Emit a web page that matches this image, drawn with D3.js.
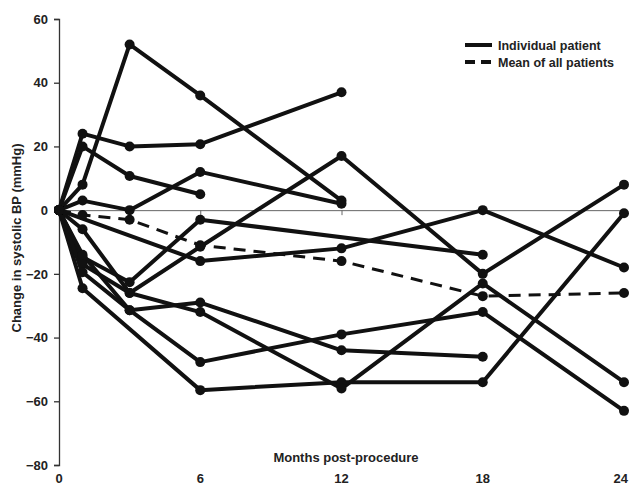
<!DOCTYPE html>
<html>
<head>
<meta charset="utf-8">
<script src="https://cdn.jsdelivr.net/npm/d3@7"></script>
<style>
  html, body { margin: 0; padding: 0; background: #fff; }
  svg { display: block; font-family: "Liberation Sans", Arial, sans-serif; }
</style>
</head>
<body>
<svg id="chart" width="629" height="486"></svg>
<script>
const months = [0, 1, 3, 6, 12, 18, 24];
const xTicks = [0, 6, 12, 18, 24];
const yTicks = [60, 40, 20, 0, -20, -40, -60, -80];

// one array per patient: [month, change in systolic BP]
const patients = [
  [[0, 0], [1, 24], [3, 20], [6, 20.7], [12, 37]],
  [[0, 0], [1, 20], [3, 10.7], [6, 5]],
  [[0, 0], [1, 8], [3, 52], [6, 36], [12, 3]],
  [[0, 0], [1, 3], [3, 0], [6, 12], [12, 2]],
  [[0, 0], [1, -14.7], [3, -22.6], [6, -3], [18, -14]],
  [[0, 0], [1, -6], [3, -26], [6, -11.5], [12, 17], [18, -20], [24, 8]],
  [[0, 0], [6, -16], [12, -12], [18, 0], [24, -18]],
  [[0, 0], [1, -24.5], [6, -56.5], [12, -54], [18, -54], [24, -1]],
  [[0, 0], [1, -17], [3, -26], [6, -32], [12, -56], [18, -23], [24, -54]],
  [[0, 0], [1, -19.5], [3, -31.4], [6, -47.7], [12, -39], [18, -32], [24, -63]],
  [[0, 0], [1, -14], [3, -31.4], [6, -29], [12, -44], [18, -46]]
];
const meanMonths = [0, 1, 3, 6, 12, 18, 24];
const meanValues = [0, -1.5, -3, -11, -16, -27, -26];

const svg = d3.select('#chart');

const x = d3.scaleLinear().domain([0, 24]).range([59, 624]);
const y = d3.scaleLinear().domain([-80, 60]).range([465, 19]);

const ink = '#111';

// y axis
svg.append('g')
  .attr('transform', `translate(${x(0)},0)`)
  .call(d3.axisLeft(y).tickValues(yTicks).tickSize(5).tickPadding(6).tickFormat(d3.format('d')))
  .call(g => g.select('.domain').attr('stroke', '#333').attr('stroke-width', 1.3))
  .call(g => g.selectAll('.tick line').attr('stroke', '#333').attr('stroke-width', 1.3))
  .call(g => g.selectAll('.tick text')
    .attr('fill', '#222').style('font-size', '13px').style('font-weight', 'bold'));

// x axis line drawn at zero
svg.append('g')
  .attr('transform', `translate(0,${y(0)})`)
  .call(d3.axisBottom(x).tickValues(xTicks.slice(1)).tickSize(5).tickFormat(''))
  .call(g => g.select('.domain').attr('stroke', '#666').attr('stroke-width', 1))
  .call(g => g.selectAll('.tick line').attr('stroke', '#666'));

// x tick labels sit at the bottom
svg.append('g')
  .selectAll('text')
  .data(xTicks)
  .join('text')
  .attr('x', d => d === 24 ? 628 : x(d))
  .attr('y', 483)
  .attr('text-anchor', d => d === 24 ? 'end' : 'middle')
  .attr('fill', '#222')
  .style('font-size', '13px')
  .style('font-weight', 'bold')
  .text(d => d);

svg.append('text')
  .attr('x', 346)
  .attr('y', 462)
  .attr('text-anchor', 'middle')
  .attr('fill', '#222')
  .style('font-size', '13px')
  .style('font-weight', 'bold')
  .text('Months post-procedure');

svg.append('text')
  .attr('transform', `translate(21,238) rotate(-90)`)
  .attr('text-anchor', 'middle')
  .attr('fill', '#222')
  .style('font-size', '13px')
  .style('font-weight', 'bold')
  .text('Change in systolic BP (mmHg)');

const line = d3.line().x(d => x(d[0])).y(d => y(d[1]));

svg.append('g')
  .selectAll('path')
  .data(patients)
  .join('path')
  .attr('d', line)
  .attr('fill', 'none')
  .attr('stroke', ink)
  .attr('stroke-width', 4)
  .attr('stroke-linejoin', 'round');

const meanPts = meanMonths.map((m, i) => [m, meanValues[i]]);

svg.append('path')
  .datum(meanPts)
  .attr('d', line)
  .attr('fill', 'none')
  .attr('stroke', ink)
  .attr('stroke-width', 3)
  .attr('stroke-dasharray', '12,8');

svg.append('g')
  .selectAll('circle')
  .data(patients.flat().concat(meanPts))
  .join('circle')
  .attr('cx', d => x(d[0]))
  .attr('cy', d => y(d[1]))
  .attr('r', 5)
  .attr('fill', ink);

// legend
const legend = svg.append('g').attr('transform', 'translate(465,45)');
legend.append('line')
  .attr('x1', 0).attr('x2', 27).attr('y1', 0).attr('y2', 0)
  .attr('stroke', ink).attr('stroke-width', 4);
legend.append('line')
  .attr('x1', 0).attr('x2', 27).attr('y1', 17).attr('y2', 17)
  .attr('stroke', ink).attr('stroke-width', 4).attr('stroke-dasharray', '10,6');
legend.append('text')
  .attr('x', 33).attr('y', 4.5)
  .attr('fill', '#222')
  .style('font-size', '12.5px').style('font-weight', 'bold')
  .text('Individual patient');
legend.append('text')
  .attr('x', 33).attr('y', 21.5)
  .attr('fill', '#222')
  .style('font-size', '12.5px').style('font-weight', 'bold')
  .text('Mean of all patients');
</script>
</body>
</html>
